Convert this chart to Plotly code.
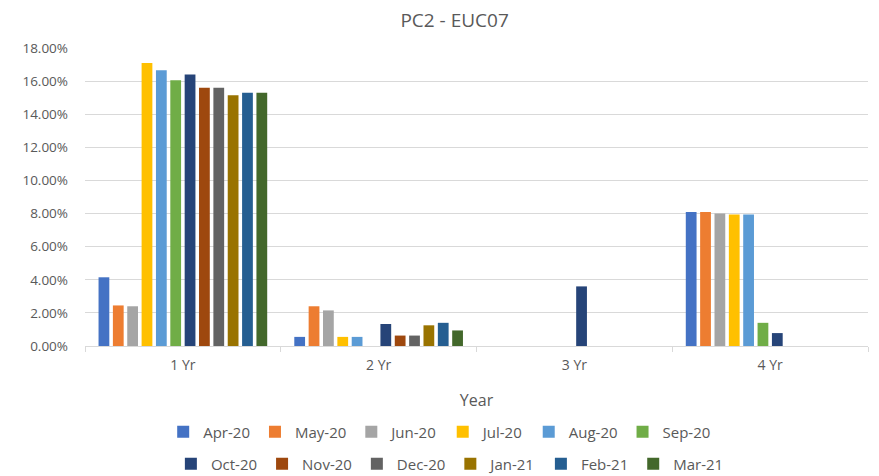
import plotly.graph_objects as go

categories = ["1 Yr", "2 Yr", "3 Yr", "4 Yr"]
months = ["Apr-20", "May-20", "Jun-20", "Jul-20", "Aug-20", "Sep-20",
          "Oct-20", "Nov-20", "Dec-20", "Jan-21", "Feb-21", "Mar-21"]

apr_20 = [0.0415, 0.0055, None, 0.0810]
may_20 = [0.0245, 0.0240, None, 0.0810]
jun_20 = [0.0240, 0.0215, None, 0.0800]
jul_20 = [0.1710, 0.0055, None, 0.0795]
aug_20 = [0.1665, 0.0055, None, 0.0795]
sep_20 = [0.1605, None, None, 0.0140]
oct_20 = [0.1640, 0.0133, 0.0360, 0.0078]
nov_20 = [0.1560, 0.0063, None, None]
dec_20 = [0.1560, 0.0063, None, None]
jan_21 = [0.1515, 0.0125, None, None]
feb_21 = [0.1530, 0.0140, None, None]
mar_21 = [0.1530, 0.0094, None, None]

series = [apr_20, may_20, jun_20, jul_20, aug_20, sep_20,
          oct_20, nov_20, dec_20, jan_21, feb_21, mar_21]
colors = ["#4472C4", "#ED7D31", "#A5A5A5", "#FFC000", "#5B9BD5", "#70AD47",
          "#264478", "#9E480E", "#636363", "#997300", "#255E91", "#43682B"]

FONT = "Open Sans"
GREY = "#595959"

fig = go.Figure()
for i, (name, vals, col) in enumerate(zip(months, series, colors)):
    fig.add_trace(go.Bar(
        x=categories, y=vals, name=name, marker_color=col,
        marker_line_width=0,
        legend="legend" if i < 6 else "legend2",
    ))

legend_common = dict(
    orientation="h", xanchor="center", yanchor="middle", yref="container",
    font=dict(family=FONT, size=15, color=GREY),
    itemwidth=30, bgcolor="rgba(0,0,0,0)", tracegroupgap=0,
)

fig.update_layout(
    width=879, height=476,
    margin=dict(l=85, r=11, t=48, b=130),
    paper_bgcolor="white", plot_bgcolor="white",
    barmode="group", bargap=0.12, bargroupgap=0.25,
    title=dict(text="PC2 - EUC07", x=0.472, xref="paper", xanchor="center",
               y=0.958, yref="container", yanchor="middle",
               font=dict(family=FONT, size=19, color=GREY)),
    font=dict(family=FONT, color=GREY),
    legend=dict(x=0.453, y=0.0924, **legend_common),
    legend2=dict(x=0.466, y=0.0252, **legend_common),
    xaxis=dict(
        title=dict(text="Year", font=dict(family=FONT, size=16, color=GREY), standoff=22),
        tickfont=dict(family=FONT, size=14, color=GREY),
        showline=True, linecolor="#D9D9D9", linewidth=1,
        ticks="outside", tickson="boundaries", ticklen=5, tickcolor="#D9D9D9",
        ticklabelstandoff=6,
        showgrid=False, automargin=False,
    ),
    yaxis=dict(
        range=[0, 0.18], dtick=0.02, tickformat=".2%",
        tickfont=dict(family=FONT, size=13.5, color=GREY),
        showgrid=True, gridcolor="#D9D9D9", gridwidth=1,
        zeroline=False, showline=False, ticks="", ticklabelstandoff=16,
        automargin=False,
    ),
)

fig.write_html("out.html", config={"displayModeBar": False},
               post_script="document.body.style.margin='0';")
